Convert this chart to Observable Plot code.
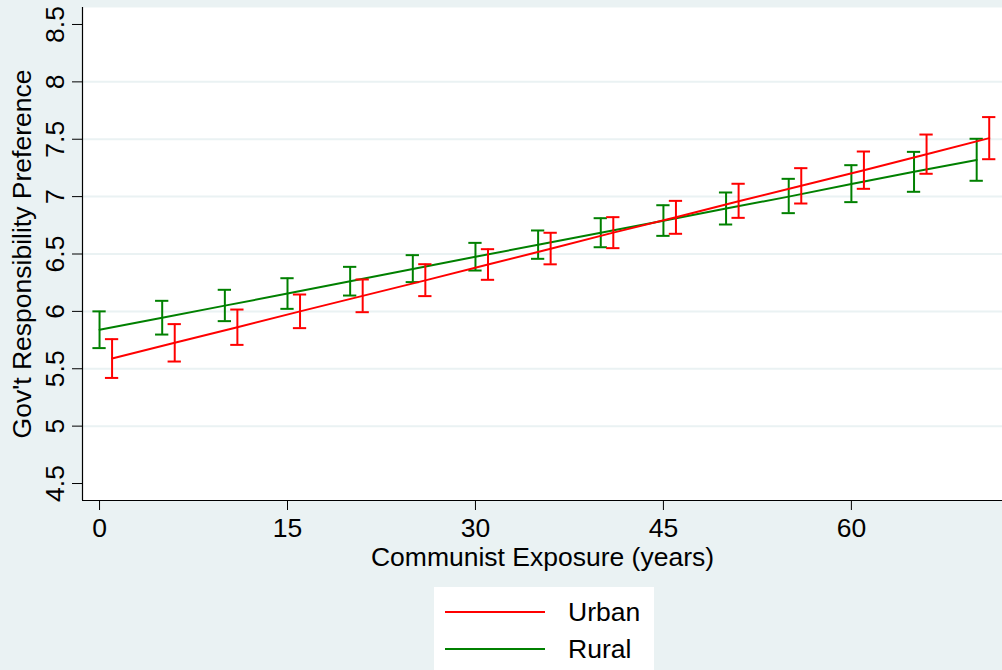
<!DOCTYPE html>
<html>
<head>
<meta charset="utf-8">
<script src="https://cdn.jsdelivr.net/npm/d3@7"></script>
<script src="https://cdn.jsdelivr.net/npm/@observablehq/plot@0.6"></script>
<style>
  html, body { margin: 0; padding: 0; background: #EAF2F3; overflow: hidden; width: 1002px; height: 670px; }
  #chart { position: absolute; left: 0; top: 0; }
  #legend { position: absolute; left: 434px; top: 587px; width: 220px; height: 100px; background: #fff;
            font-family: "Liberation Sans", Arial, sans-serif; font-size: 26.5px; color: #000; }
  .item { position: absolute; left: 0; width: 220px; height: 37px; }
  .swatch { position: absolute; left: 11px; width: 100px; height: 2.2px; }
  .lab { position: absolute; left: 134px; line-height: 1; }
</style>
</head>
<body>
<div id="chart"></div>
<div id="legend"></div>
<script>
// ---- data ----
const ruralYears = [0, 5, 10, 15, 20, 25, 30, 35, 40, 45, 50, 55, 60, 65, 70];
const urbanYears = [1, 6, 11, 16, 21, 26, 31, 36, 41, 46, 51, 56, 61, 66, 71];
const ruralMean = [5.84, 5.945, 6.05, 6.155, 6.263, 6.37, 6.476, 6.58, 6.685, 6.79, 6.897, 7.0, 7.11, 7.216, 7.32];
const ruralLo   = [5.68, 5.798, 5.915, 6.022, 6.138, 6.255, 6.356, 6.458, 6.559, 6.658, 6.757, 6.856, 6.952, 7.042, 7.138];
const ruralHi   = [6.0, 6.092, 6.188, 6.289, 6.388, 6.49, 6.597, 6.705, 6.812, 6.925, 7.036, 7.155, 7.274, 7.39, 7.504];
const urbanMean = [5.59, 5.726, 5.862, 6.0, 6.135, 6.27, 6.408, 6.545, 6.686, 6.82, 6.96, 7.094, 7.23, 7.37, 7.51];
const urbanLo   = [5.42, 5.563, 5.708, 5.854, 5.993, 6.133, 6.275, 6.41, 6.551, 6.676, 6.815, 6.94, 7.068, 7.199, 7.326];
const urbanHi   = [5.758, 5.889, 6.016, 6.147, 6.278, 6.411, 6.542, 6.685, 6.821, 6.963, 7.112, 7.248, 7.393, 7.541, 7.693];
const seriesNames = ["Urban", "Rural"];
const seriesColors = ["#FF0000", "#008000"];
const xTicks = [0, 15, 30, 45, 60];
const yTicks = [4.5, 5, 5.5, 6, 6.5, 7, 7.5, 8, 8.5];
const yGrid = [5, 5.5, 6, 6.5, 7, 7.5, 8];
const xTitle = "Communist Exposure (years)";
const yTitle = "Gov't Responsibility Preference";

// ---- build tables ----
const rural = ruralYears.map((x, i) => ({x, mean: ruralMean[i], lo: ruralLo[i], hi: ruralHi[i]}));
const urban = urbanYears.map((x, i) => ({x, mean: urbanMean[i], lo: urbanLo[i], hi: urbanHi[i]}));

const xDomain = [-1.36, 72.06];
const yDomain = [4.352, 8.648];
const cap = 0.53;

function seriesMarks(data, color) {
  return [
    Plot.ruleX(data, {x: "x", y1: "lo", y2: "hi", stroke: color, strokeWidth: 2}),
    Plot.ruleY(data, {y: "lo", x1: d => d.x - cap, x2: d => d.x + cap, stroke: color, strokeWidth: 2}),
    Plot.ruleY(data, {y: "hi", x1: d => d.x - cap, x2: d => d.x + cap, stroke: color, strokeWidth: 2}),
    Plot.line(data, {x: "x", y: "mean", stroke: color, strokeWidth: 2})
  ];
}

const chart = Plot.plot({
  width: 1002,
  height: 580,
  marginLeft: 82,
  marginRight: 0,
  marginTop: 7,
  marginBottom: 80,
  style: {background: "transparent", fontFamily: "'Liberation Sans', Arial, sans-serif", fontSize: "26.5px", color: "#000"},
  x: {domain: xDomain},
  y: {domain: yDomain},
  marks: [
    Plot.frame({fill: "#FFFFFF", stroke: null}),
    Plot.ruleY(yGrid, {stroke: "#EAF2F3", strokeWidth: 2}),
    ...seriesMarks(rural, seriesColors[1]),
    ...seriesMarks(urban, seriesColors[0]),
    Plot.ruleX([xDomain[0]], {stroke: "#000", strokeWidth: 1.2}),
    Plot.ruleY([yDomain[0]], {stroke: "#000", strokeWidth: 1.2}),
    Plot.axisX({ticks: xTicks, tickSize: 10, tickPadding: 8, stroke: "#000", label: xTitle, labelAnchor: "center", labelOffset: 65, labelArrow: "none"}),
    Plot.axisY({ticks: yTicks, tickFormat: d => String(d), tickSize: 10, tickPadding: 9, tickRotate: -90,
                textAnchor: "middle", lineAnchor: "bottom", stroke: "#000",
                label: yTitle, labelAnchor: "center", labelOffset: 70, labelArrow: "none"})
  ]
});
document.getElementById("chart").appendChild(chart);

// ---- legend ----
const legend = document.getElementById("legend");
seriesNames.forEach((name, i) => {
  const item = document.createElement("div");
  item.className = "item";
  item.style.top = (i * 37) + "px";
  const sw = document.createElement("div");
  sw.className = "swatch";
  sw.style.top = "24px";
  sw.style.background = seriesColors[i];
  const lab = document.createElement("div");
  lab.className = "lab";
  lab.style.top = "12px";
  lab.textContent = name;
  item.appendChild(sw);
  item.appendChild(lab);
  legend.appendChild(item);
});
</script>
</body>
</html>
